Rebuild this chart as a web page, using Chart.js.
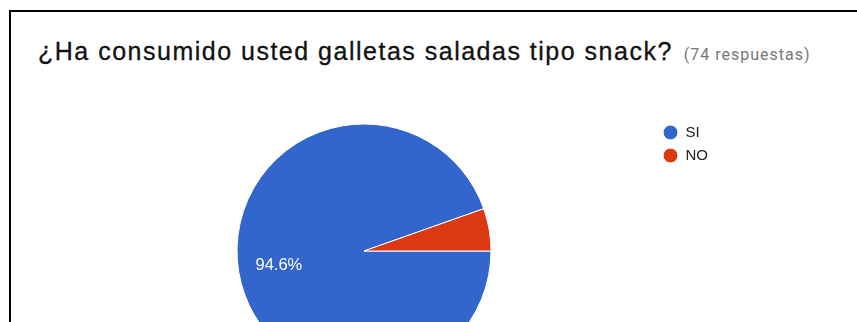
<!DOCTYPE html>
<html>
<head>
<meta charset="utf-8">
<script src="https://cdn.jsdelivr.net/npm/chart.js@4/dist/chart.umd.min.js"></script>
<style>
  body { margin: 0; background: #fff; width: 857px; height: 322px; overflow: hidden; position: relative; }
  .frame {
    position: absolute; left: 9px; top: 10px; width: 860px; height: 330px;
    border-top: 2px solid #000; border-left: 2px solid #000;
  }
  .title {
    position: absolute; left: 38px; top: 39px; white-space: nowrap;
    font-family: "Liberation Sans", Arial, sans-serif; font-size: 25px; line-height: 25px;
    letter-spacing: 1.5px; color: #111; -webkit-text-stroke: 0.3px #111;
  }
  .title .count {
    font-family: Roboto, sans-serif; font-size: 16px; letter-spacing: 1px;
    color: #777; margin-left: 11px; -webkit-text-stroke: 0;
  }
  #wrap { position: absolute; left: 0; top: 0; width: 857px; height: 400px; }
</style>
</head>
<body>
<div class="frame"></div>
<div class="title">¿Ha consumido usted galletas saladas tipo snack?<span class="count">(74 respuestas)</span></div>
<div id="wrap"><canvas id="pieChart"></canvas></div>

<script>
// answers to the question
const answerLabels = ['SI', 'NO']
const answerCounts = [70, 4]
const answerColors = ['#3366cc', '#dc3912']

const total = answerCounts.reduce((a, b) => a + b, 0)

// percent text inside the big slices (small ones stay empty)
const sliceLabels = {
    id: 'sliceLabels',
    afterDatasetsDraw(chart) {
        const ctx = chart.ctx
        const meta = chart.getDatasetMeta(0)
        ctx.save()
        ctx.fillStyle = '#fff'
        ctx.font = '16.5px "Liberation Sans", Arial, sans-serif'
        ctx.textAlign = 'center'
        ctx.textBaseline = 'middle'
        meta.data.forEach((arc, i) => {
            const pct = answerCounts[i] / total * 100
            if (pct < 10) return
            const p = arc.getProps(['x', 'y', 'startAngle', 'endAngle', 'outerRadius'], true)
            const mid = (p.startAngle + p.endAngle) / 2
            const r = p.outerRadius * 0.68
            ctx.fillText(pct.toFixed(1) + '%', p.x + Math.cos(mid) * r, p.y + Math.sin(mid) * r)
        })
        ctx.restore()
    }
}

let pieChart = new Chart(document.getElementById('pieChart').getContext('2d'), {
    type: 'pie',
    data: {
        labels: answerLabels,
        datasets: [{
            data: answerCounts,
            backgroundColor: answerColors,
            borderColor: '#fff',
            borderWidth: 1,
            clip: false
        }]
    },
    options: {
        responsive: true,
        maintainAspectRatio: false,
        animation: false,
        rotation: 90,
        radius: 127,
        events: [],
        layout: {
            padding: { top: 117, bottom: 15, left: 73, right: 139 }
        },
        plugins: {
            tooltip: { enabled: false },
            legend: {
                position: 'right',
                align: 'start',
                labels: {
                    usePointStyle: true,
                    pointStyle: 'circle',
                    boxWidth: 15,
                    boxHeight: 10.5,
                    padding: 8,
                    color: '#222',
                    font: { family: '"Liberation Sans", Arial, sans-serif', size: 15 }
                }
            }
        }
    },
    plugins: [sliceLabels]
});
</script>
</body>
</html>
